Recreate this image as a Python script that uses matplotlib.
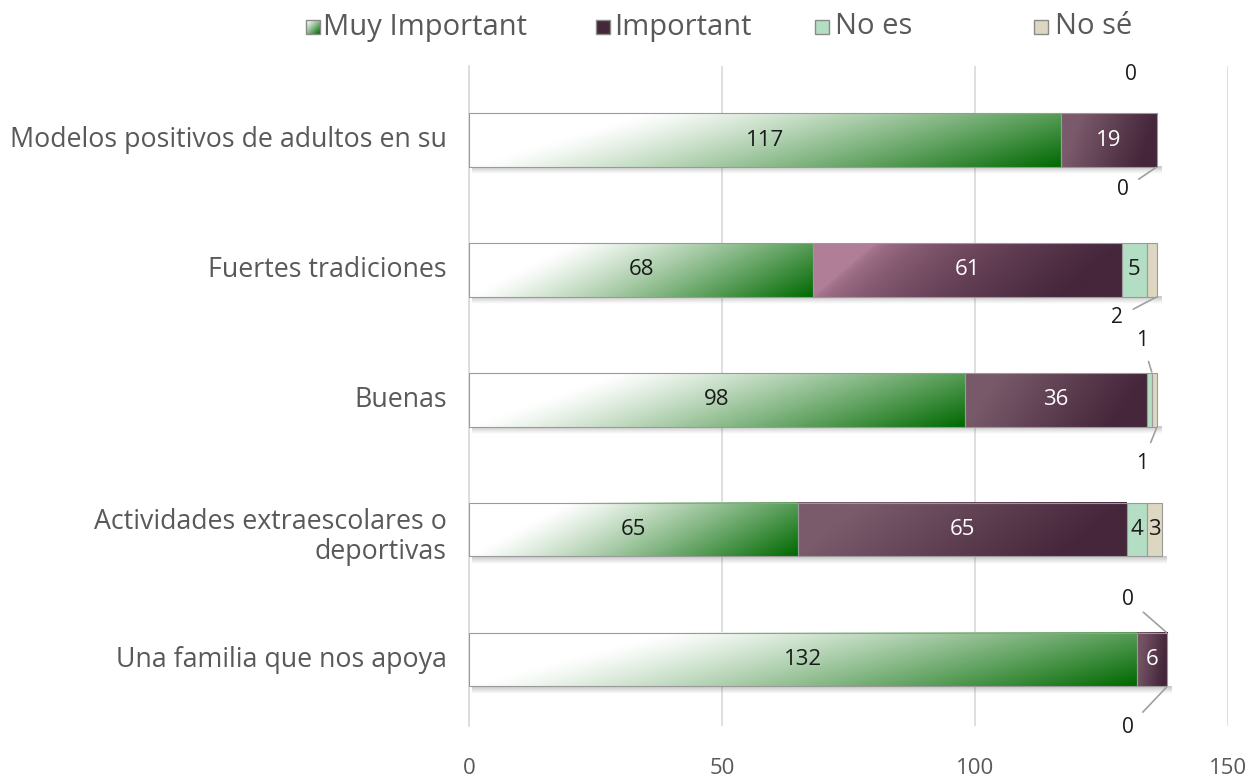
import numpy as np
import matplotlib
matplotlib.use("Agg")
import matplotlib.pyplot as plt
from matplotlib.colors import to_rgb
from matplotlib.patches import Rectangle

# ---- data -------------------------------------------------------------
categories = [
    "Modelos positivos de adultos en su",
    "Fuertes tradiciones",
    "Buenas",
    "Actividades extraescolares o\ndeportivas",
    "Una familia que nos apoya",
]
series_names = ["Muy Important", "Important", "No es", "No sé"]
muy_important = [117, 68, 98, 65, 132]
important = [19, 61, 36, 65, 6]
no_es = [0, 5, 1, 4, 0]
no_se = [0, 2, 1, 3, 0]
x_ticks = [0, 50, 100, 150]

# ---- styling ------------------------------------------------------------
FONT = "Open Sans"
TEXT_GREY = "#595959"
GREEN_DARK = "#006900"
PURPLE_DARK = "#45263a"
PURPLE_LIGHT = ["#7a5a6b", "#b07e97", "#78596a", "#7a5b6c", "#735264"]
PURPLE_POWER = [1.0, 0.55, 1.0, 1.0, 1.0]
NO_ES_COLOR = "#b3dec4"
NO_SE_COLOR = "#ddd6c1"
EDGE = "#9a9a9a"
BAR_H = 0.41

# outside-label offsets (pixels) for segments too thin to hold their value
outside = {
    (0, 2): (-26, -39, False),
    (0, 3): (-34, 23, True),
    (1, 3): (-40, 21, True),
    (2, 2): (-10, -33, True),
    (2, 3): (-15, 37, True),
    (4, 2): (-39, -34, True),
    (4, 3): (-39, 41, True),
}

W, H, DPI = 1253, 778, 100
fig = plt.figure(figsize=(W / DPI, H / DPI), dpi=DPI)
ax = fig.add_axes([469 / W, 1 - 726 / H, (1228 - 469) / W, (726 - 66) / H])

ax.set_xlim(0, 150)
ax.set_ylim(4.51, -0.57)
ax.set_xticks(x_ticks)
ax.set_xticklabels([str(t) for t in x_ticks], fontfamily=FONT, fontsize=16,
                   color=TEXT_GREY)
ax.tick_params(axis="x", length=0, pad=23)
ax.set_yticks(range(len(categories)))
ax.set_yticklabels([])
ax.tick_params(axis="y", length=0)
ax.grid(axis="x", color="#d9d9d9", lw=1.2, zorder=0)
for s in ["top", "right", "bottom"]:
    ax.spines[s].set_visible(False)
ax.spines["left"].set_color("#d9d9d9")
ax.spines["left"].set_linewidth(1.2)
ax.set_axisbelow(True)

# category labels, right aligned next to the axis
for i, cat in enumerate(categories):
    dy = -5 if "\n" in cat else 0
    ax.annotate(cat, xy=(0, i), xycoords="data", xytext=(-16, dy),
                textcoords="offset points", ha="right", va="center",
                fontfamily=FONT, fontsize=19.3, color=TEXT_GREY,
                linespacing=1.1, annotation_clip=False)


def gradient_image(c0, c1, nx=300, ny=40, skew=0.25, power=1.0, norm=True):
    u = np.linspace(0, 1, nx)[None, :]
    v = np.linspace(0, 1, ny)[:, None]
    t = u - skew * (1 - v)
    if norm:
        t = t / (1 - skew)
    t = np.clip(t, 0, 1) ** power
    c0 = np.array(to_rgb(c0))
    c1 = np.array(to_rgb(c1))
    img = c0[None, None, :] * (1 - t[..., None]) + c1[None, None, :] * t[..., None]
    return img


def shadow(left, width, y):
    yb = y + BAR_H / 2
    ny = 20
    alpha = np.linspace(0.35, 0.0, ny)[:, None] * np.ones((1, 10))
    img = np.zeros((ny, 10, 4))
    img[..., :3] = 0.35
    img[..., 3] = alpha
    ax.imshow(img, extent=(left + 0.5, left + width + 0.8, yb + 0.06, yb),
              aspect="auto", zorder=1, interpolation="bilinear")


values = [muy_important, important, no_es, no_se]
for i in range(len(categories)):
    total = sum(v[i] for v in values)
    shadow(0, total, i)
    left = 0
    for k, vals in enumerate(values):
        w = vals[i]
        y0, y1 = i - BAR_H / 2, i + BAR_H / 2
        if w > 0:
            if k == 0:
                img = gradient_image("#ffffff", GREEN_DARK, skew=0.3, power=1.15,
                                     norm=False)
                ax.imshow(img, extent=(left, left + w, y1, y0), aspect="auto",
                          zorder=2, interpolation="bilinear")
            elif k == 1:
                img = gradient_image(PURPLE_LIGHT[i], PURPLE_DARK, skew=0.2,
                                     power=PURPLE_POWER[i])
                ax.imshow(img, extent=(left, left + w, y1, y0), aspect="auto",
                          zorder=2, interpolation="bilinear")
            fc = {2: NO_ES_COLOR, 3: NO_SE_COLOR}.get(k, "none")
            ax.add_patch(Rectangle((left, y0), w, BAR_H, facecolor=fc,
                                   edgecolor=EDGE, lw=0.8, zorder=3))
        xc = left + w / 2
        if (i, k) in outside:
            dx, dy, line = outside[(i, k)]
            yedge = y0 if dy < 0 else y1
            ax.annotate(str(w), xy=(left + w, yedge), xycoords="data",
                        xytext=(dx * 0.72, -dy * 0.72), textcoords="offset points",
                        ha="center", va="center", fontfamily=FONT, fontsize=15,
                        color="#1a1a1a", zorder=5,
                        arrowprops=dict(arrowstyle="-", color="#a0a0a0", lw=1.2,
                                        shrinkA=6, shrinkB=1) if line else None)
        else:
            color = "white" if k == 1 else "#1a1a1a"
            ax.text(xc, i, str(w), ha="center", va="center", fontfamily=FONT,
                    fontsize=16, color=color, zorder=5)
        left += w

# legend across the top
legend_items = [
    (313, 323, "grad", "Muy Important"),
    (603, 614, PURPLE_DARK, "Important"),
    (822, 835, NO_ES_COLOR, "No es"),
    (1041, 1055, NO_SE_COLOR, "No sé"),
]
for mx, tx, col, label in legend_items:
    sq = 14
    lax = fig.add_axes([(mx - sq / 2) / W, 1 - (27 + sq / 2) / H, sq / W, sq / H])
    lax.set_axis_off()
    if col == "grad":
        u = np.linspace(0, 1, 20)[None, :]
        v = np.linspace(0, 1, 20)[:, None]
        t = np.clip((u + v) / 2, 0, 1) ** 1.2
        c1 = np.array(to_rgb(GREEN_DARK))
        img = (1 - t[..., None]) + c1[None, None, :] * t[..., None]
        lax.imshow(img, extent=(0, 1, 0, 1), aspect="auto")
    else:
        lax.imshow(np.array(to_rgb(col))[None, None, :], extent=(0, 1, 0, 1),
                   aspect="auto")
    lax.add_patch(Rectangle((0, 0), 1, 1, fill=False, edgecolor="#8a8a8a", lw=1,
                            transform=lax.transAxes, clip_on=False))
    lax.set_xlim(0, 1)
    lax.set_ylim(0, 1)
    fig.text(tx / W, 1 - 27 / H, label, ha="left", va="center", fontfamily=FONT,
             fontsize=21, color=TEXT_GREY)

fig.savefig("out.png", dpi=DPI, facecolor="white")
